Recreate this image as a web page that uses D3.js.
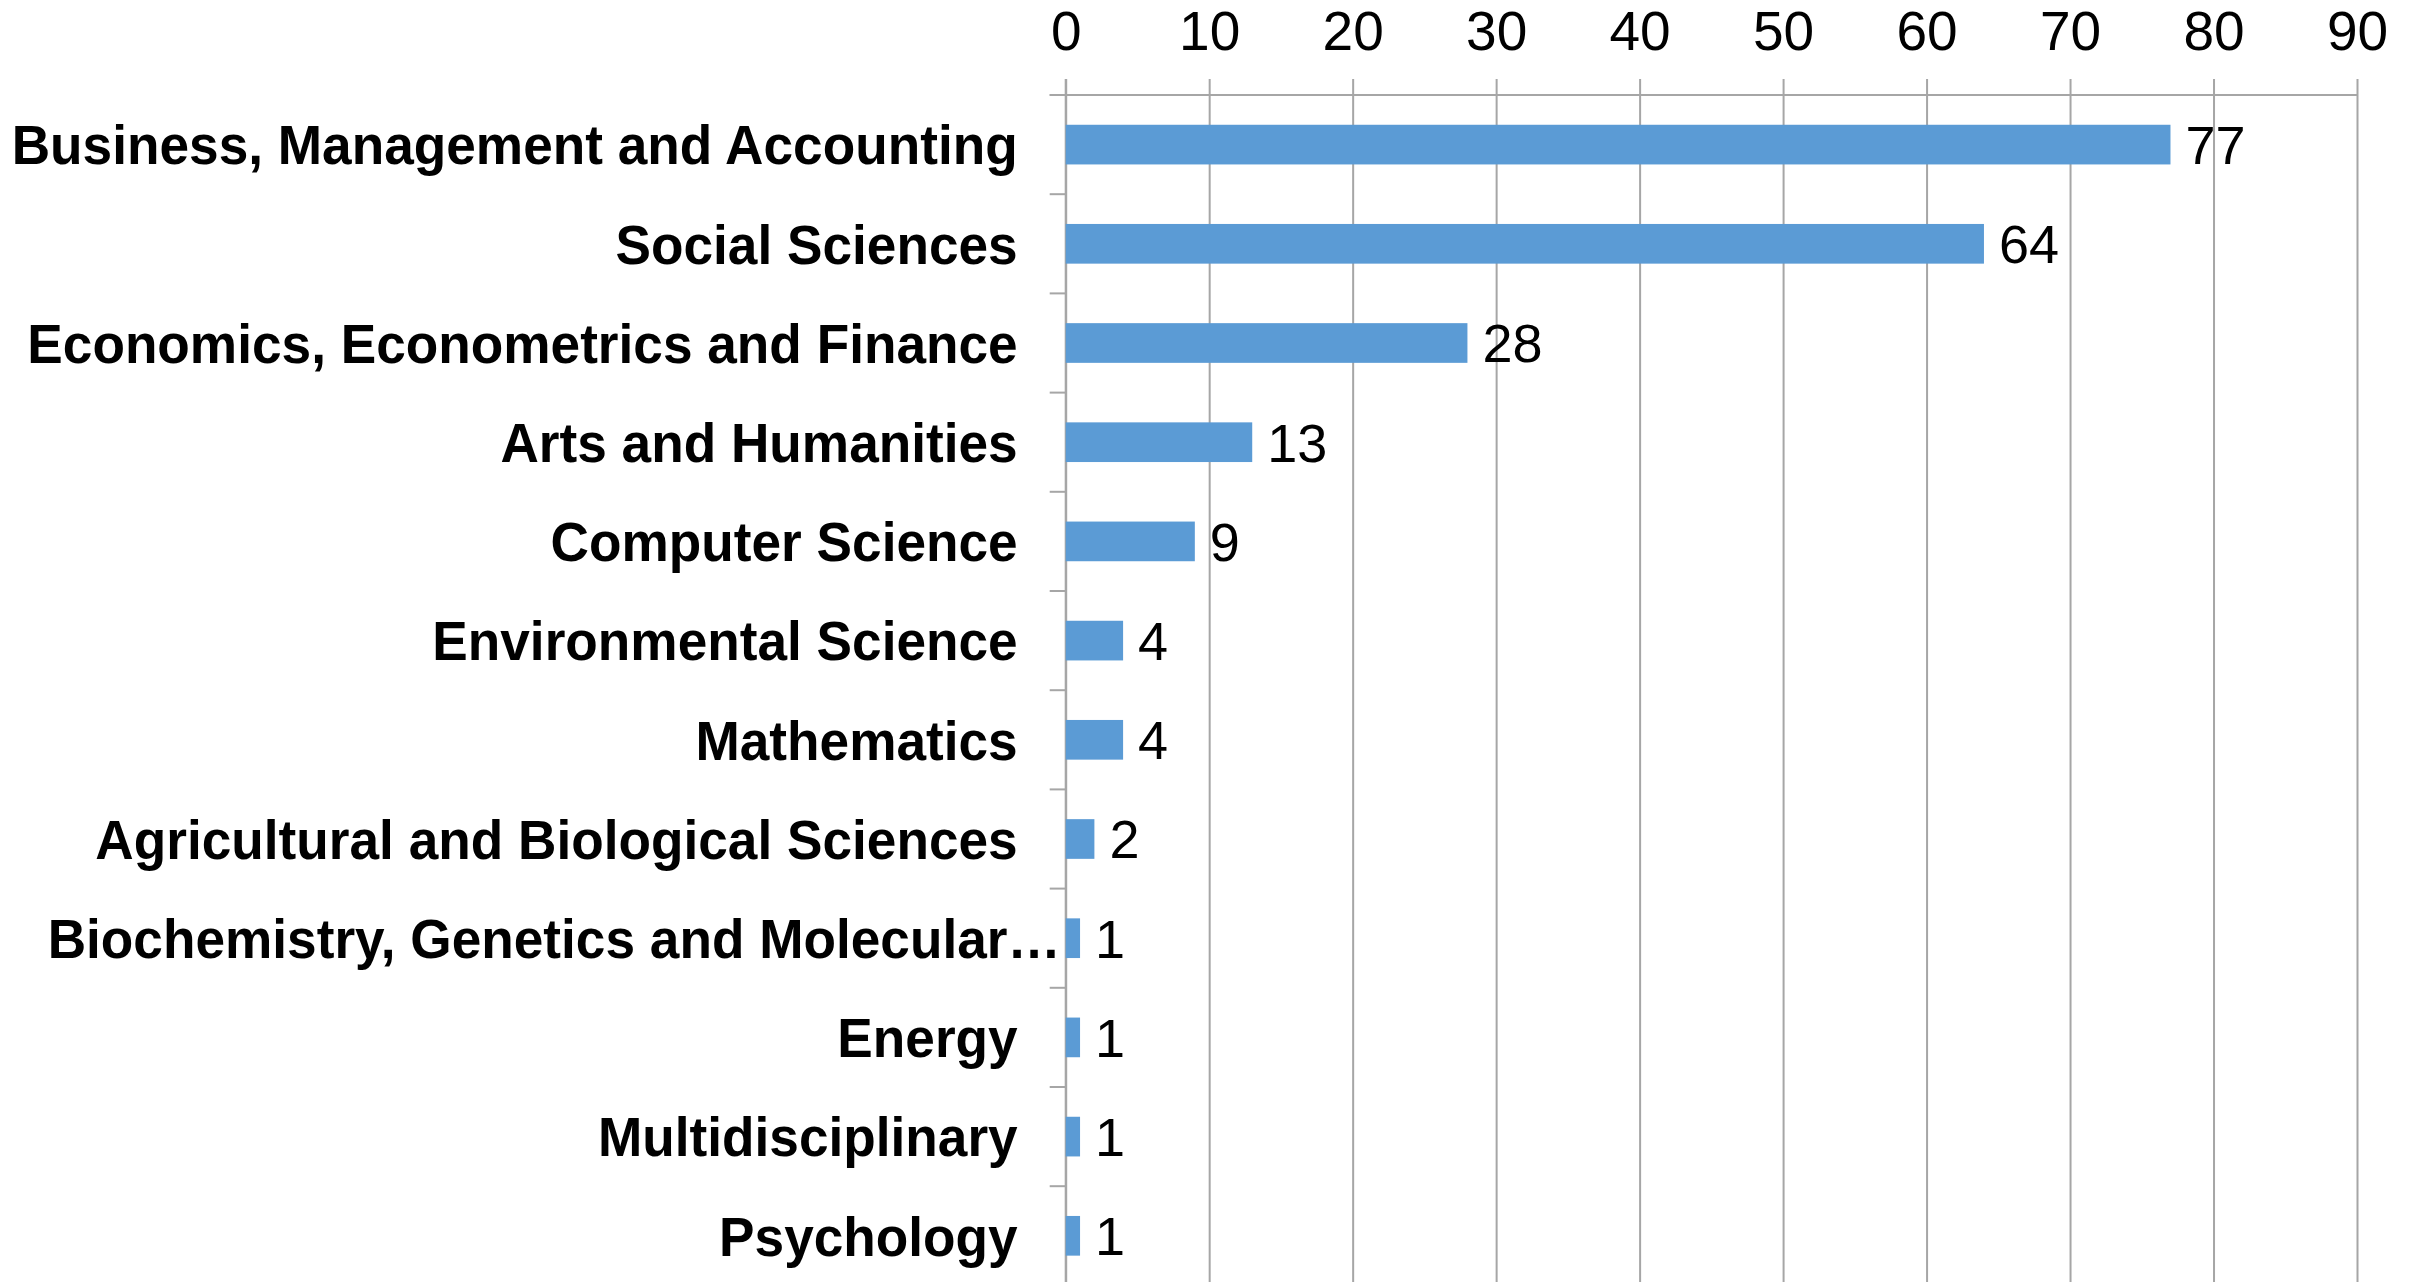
<!DOCTYPE html>
<html>
<head>
<meta charset="utf-8">
<script src="https://cdn.jsdelivr.net/npm/d3@7"></script>
<style>
    html, body { margin: 0; padding: 0; background: #fff; overflow: hidden; }
    svg { display: block; font-family: "Liberation Sans", Arial, sans-serif; }
</style>
</head>
<body>
<div id="chart"></div>
<script>
'use strict';

var categories = [
    'Business, Management and Accounting',
    'Social Sciences',
    'Economics, Econometrics and Finance',
    'Arts and Humanities',
    'Computer Science',
    'Environmental Science',
    'Mathematics',
    'Agricultural and Biological Sciences',
    'Biochemistry, Genetics and Molecular\u2026',
    'Energy',
    'Multidisciplinary',
    'Psychology'
];

var counts = [77, 64, 28, 13, 9, 4, 4, 2, 1, 1, 1, 1];

var xTicks = [0, 10, 20, 30, 40, 50, 60, 70, 80, 90];

var settings = {
    width: 2420,
    height: 1282,
    left: 1065.7,
    right: 2357,
    top: 95,
    bottom: 1285.4,
    barColor: '#5b9bd5',
    gridColor: '#a6a6a6',
    firstLabelWidth: 1006
};

var svg = d3.select('#chart').append('svg')
    .attr('width', settings.width)
    .attr('height', settings.height);

var x = d3.scaleLinear()
    .domain([0, 90])
    .range([settings.left, settings.right]);

var y = d3.scaleBand()
    .domain(categories)
    .range([settings.top, settings.bottom])
    .padding(0);

var plotH = settings.bottom - settings.top;

// vertical grid lines + top tick labels
var xAxis = svg.append('g')
    .attr('transform', 'translate(0,' + settings.top + ')')
    .call(d3.axisTop(x).tickValues(xTicks).tickSizeInner(16).tickSizeOuter(0).tickPadding(29));

xAxis.select('.domain').remove();
xAxis.selectAll('.tick line')
    .attr('y1', plotH)
    .attr('y2', -16)
    .attr('stroke', settings.gridColor)
    .attr('stroke-width', 2);
xAxis.selectAll('.tick text')
    .attr('font-size', 55)
    .attr('font-family', '"Liberation Sans", Arial, sans-serif')
    .attr('fill', '#000');

// horizontal axis line at top
svg.append('line')
    .attr('x1', settings.left - 16)
    .attr('x2', settings.right)
    .attr('y1', settings.top)
    .attr('y2', settings.top)
    .attr('stroke', settings.gridColor)
    .attr('stroke-width', 2);

// category axis
var bounds = categories.map(function(c) { return y(c); });
bounds.push(settings.bottom);

svg.selectAll('.ytick')
    .data(bounds)
    .enter()
    .append('line')
    .attr('class', 'ytick')
    .attr('x1', settings.left - 16)
    .attr('x2', settings.left)
    .attr('y1', function(d) { return d; })
    .attr('y2', function(d) { return d; })
    .attr('stroke', settings.gridColor)
    .attr('stroke-width', 2);

var catLabels = svg.selectAll('.cat')
    .data(categories)
    .enter()
    .append('text')
    .attr('class', 'cat')
    .attr('x', function(d, i) { return i === 8 ? settings.left - 5 : settings.left - 48; })
    .attr('y', function(d) { return y(d) + y.bandwidth() / 2; })
    .attr('dy', '0.36em')
    .attr('text-anchor', 'end')
    .attr('font-size', 55)
    .attr('font-weight', 'bold')
    .attr('fill', '#000')
    .text(function(d) { return d; });

// reference font runs a bit narrower than Liberation Sans Bold
var squeeze = settings.firstLabelWidth / catLabels.node().getComputedTextLength();
catLabels.each(function() {
    var len = this.getComputedTextLength();
    d3.select(this)
        .attr('textLength', len * squeeze)
        .attr('lengthAdjust', 'spacingAndGlyphs');
});

svg.append('line')
    .attr('x1', settings.left)
    .attr('x2', settings.left)
    .attr('y1', settings.top - 16)
    .attr('y2', settings.bottom)
    .attr('stroke', settings.gridColor)
    .attr('stroke-width', 2);

// bars
var barH = y.bandwidth() * 0.4;

svg.selectAll('.bar')
    .data(counts)
    .enter()
    .append('rect')
    .attr('class', 'bar')
    .attr('x', x(0))
    .attr('y', function(d, i) { return y(categories[i]) + (y.bandwidth() - barH) / 2; })
    .attr('width', function(d) { return x(d) - x(0); })
    .attr('height', barH)
    .attr('fill', settings.barColor);

svg.selectAll('.val')
    .data(counts)
    .enter()
    .append('text')
    .attr('class', 'val')
    .attr('x', function(d) { return x(d) + 15; })
    .attr('y', function(d, i) { return y(categories[i]) + y.bandwidth() / 2; })
    .attr('dy', '0.36em')
    .attr('font-size', 54)
    .attr('fill', '#000')
    .text(function(d) { return d; });
</script>
</body>
</html>
